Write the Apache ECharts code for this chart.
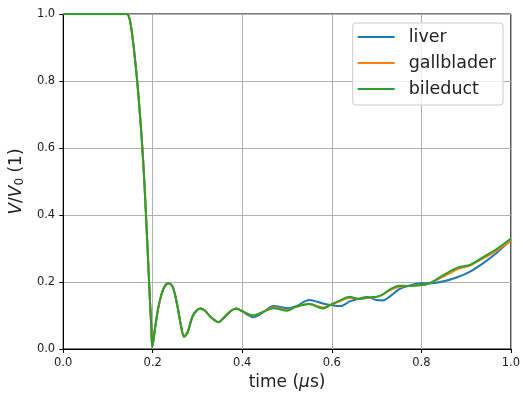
<!DOCTYPE html>
<html>
<head>
<meta charset="utf-8">
<script src="https://cdn.jsdelivr.net/npm/echarts@6/dist/echarts.min.js"></script>
<style>
  html, body { margin: 0; padding: 0; background: #fff; }
  #chart { width: 523px; height: 396px; }
</style>
</head>
<body>
<div id="chart"></div>
<script>
// Shared time base (µs): the pulse edge and first ringing are common to all tissues
const timeEarly = [0, 0.142, 0.146, 0.150, 0.154, 0.158, 0.162, 0.166, 0.170, 0.174, 0.178, 0.182, 0.186,
  0.190, 0.194, 0.197, 0.199,
  0.205, 0.212, 0.220, 0.228, 0.236, 0.245, 0.255, 0.263, 0.270, 0.278, 0.290, 0.306, 0.316, 0.330,
  0.347, 0.360, 0.375, 0.387];
const voltEarly = [1, 1, 0.995, 0.975, 0.94, 0.895, 0.845, 0.79, 0.725, 0.655, 0.575, 0.48, 0.37,
  0.255, 0.14, 0.06, 0.005,
  0.06, 0.12, 0.165, 0.19, 0.196, 0.185, 0.13, 0.07, 0.037, 0.05, 0.10, 0.121, 0.115, 0.095,
  0.08, 0.095, 0.114, 0.121];

// Later part, where the three tissues diverge slightly
const timeLate = [0.40, 0.424, 0.445, 0.47, 0.50, 0.52, 0.55, 0.58, 0.60, 0.62, 0.64, 0.66, 0.68,
  0.70, 0.715, 0.73, 0.75, 0.77, 0.80, 0.82, 0.85, 0.88, 0.91, 0.94, 0.97, 1.0];
const liverLate = [0.112, 0.095, 0.108, 0.128, 0.122, 0.128, 0.146, 0.136, 0.131, 0.128, 0.142, 0.150, 0.155,
  0.146, 0.145, 0.157, 0.178, 0.188, 0.196, 0.196, 0.202, 0.214, 0.232, 0.258, 0.289, 0.325];
const gallLate = [0.113, 0.099, 0.110, 0.124, 0.116, 0.126, 0.134, 0.124, 0.133, 0.144, 0.153, 0.150, 0.153,
  0.155, 0.163, 0.176, 0.186, 0.188, 0.191, 0.197, 0.217, 0.238, 0.250, 0.272, 0.295, 0.323];
const bileLate = [0.113, 0.100, 0.110, 0.122, 0.114, 0.126, 0.134, 0.121, 0.134, 0.146, 0.156, 0.149, 0.154,
  0.156, 0.164, 0.178, 0.189, 0.188, 0.191, 0.197, 0.221, 0.242, 0.252, 0.276, 0.300, 0.330];

const seriesNames = ['liver', 'gallblader', 'bileduct'];
const seriesColors = ['#1f77b4', '#ff7f0e', '#2ca02c'];
const lateValues = [liverLate, gallLate, bileLate];

const axisTicks = [0, 0.2, 0.4, 0.6, 0.8, 1.0];

function buildPairs(late) {
  const pts = timeEarly.map((t, i) => [t, voltEarly[i]]);
  timeLate.forEach((t, i) => pts.push([t, late[i]]));
  return pts;
}

const font = 'DejaVu Sans';
const chart = echarts.init(document.getElementById('chart'), null, { renderer: 'canvas' });

const valueAxis = (extra) => Object.assign({
  type: 'value',
  min: axisTicks[0],
  max: axisTicks[axisTicks.length - 1],
  interval: 0.2,
  axisLine: { show: true, onZero: false, lineStyle: { color: '#000', width: 1 } },
  axisTick: { show: true, inside: false, length: 4, lineStyle: { color: '#000', width: 1 } },
  axisLabel: { color: '#222', fontFamily: font, fontSize: 11.5, formatter: v => v.toFixed(1) },
  splitLine: { show: true, lineStyle: { color: '#b0b0b0', width: 1 } }
}, extra);

chart.setOption({
  animation: false,
  backgroundColor: '#fff',
  grid: { left: 62, right: 10, top: 14, bottom: 47, show: true, borderColor: '#000', borderWidth: 1, backgroundColor: 'transparent' },
  legend: {
    orient: 'vertical',
    right: 20,
    top: 23,
    data: seriesNames,
    icon: 'rect',
    itemWidth: 37,
    itemHeight: 2,
    itemGap: 8,
    padding: [5, 7, 7, 5],
    backgroundColor: 'rgba(255,255,255,0.8)',
    borderColor: '#cccccc',
    borderWidth: 1,
    borderRadius: 3,
    textStyle: { fontFamily: font, fontSize: 17.5, lineHeight: 18, color: '#222', padding: [0, 0, 0, 9] }
  },
  xAxis: valueAxis({
    name: 'time ({i|μ}s)',
    nameLocation: 'middle',
    nameGap: 25,
    nameTextStyle: {
      fontFamily: font, fontSize: 17, color: '#222',
      rich: { i: { fontFamily: font, fontSize: 17, fontStyle: 'italic', color: '#222' } }
    }
  }),
  yAxis: valueAxis({
    name: '{i|V}/{i|V}{s|0} (1)',
    nameLocation: 'middle',
    nameGap: 35,
    nameTextStyle: {
      fontFamily: font, fontSize: 17, color: '#222',
      rich: {
        i: { fontFamily: font, fontSize: 17, fontStyle: 'italic', color: '#222' },
        s: { fontFamily: font, fontSize: 12, color: '#222', padding: [7, 0, 0, 0] }
      }
    }
  }),
  series: seriesNames.map((name, k) => ({
    name,
    type: 'line',
    data: buildPairs(lateValues[k]),
    smooth: 0.3,
    showSymbol: false,
    symbol: 'none',
    clip: true,
    lineStyle: { color: seriesColors[k], width: 2 },
    itemStyle: { color: seriesColors[k] },
    z: 2 + k
  }))
});
</script>
</body>
</html>
